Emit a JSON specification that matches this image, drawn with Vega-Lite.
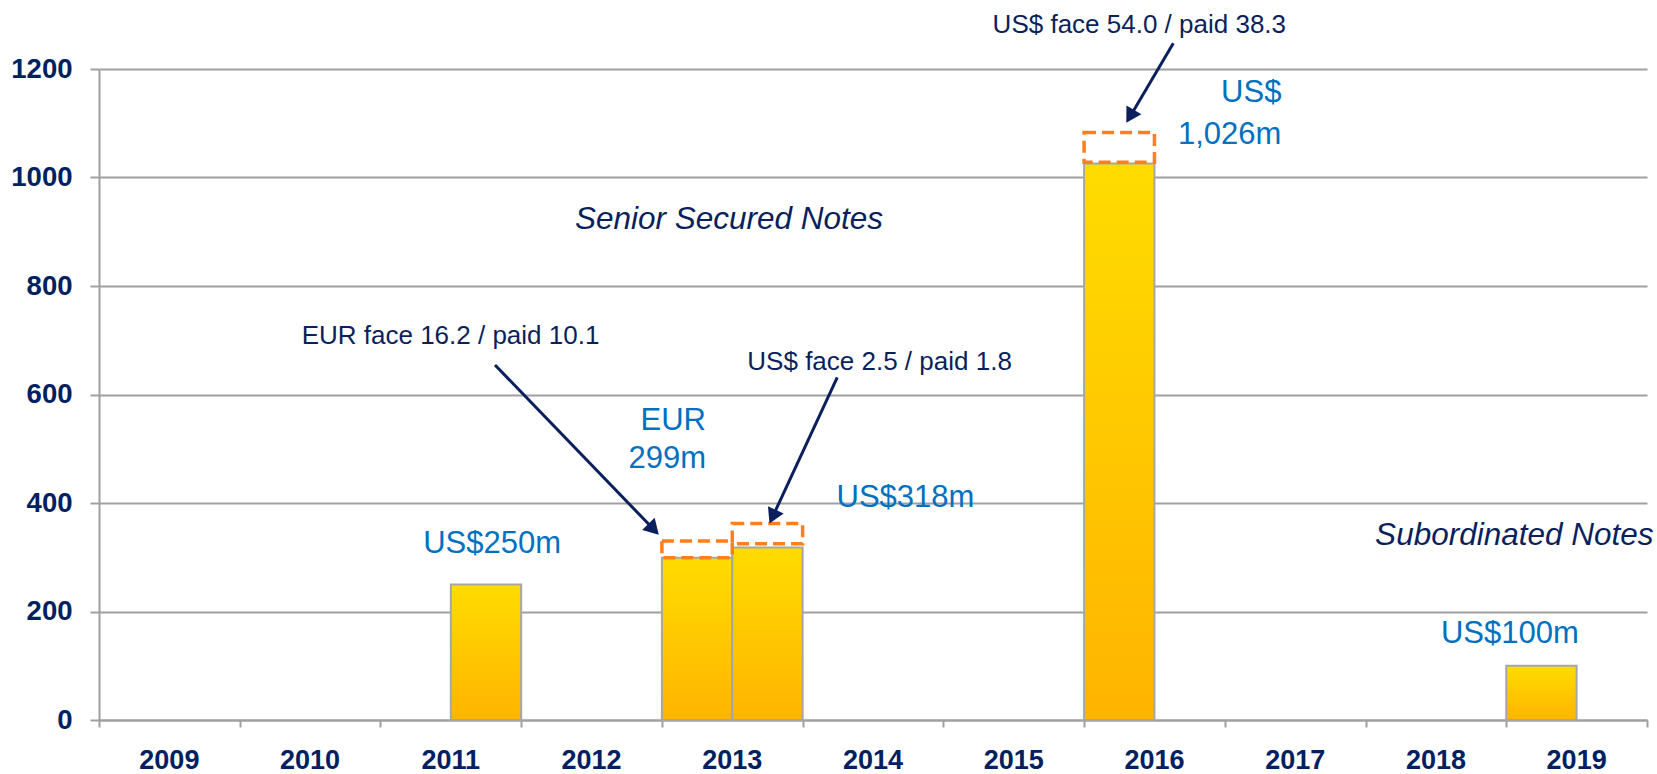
{
  "$schema": "https://vega.github.io/schema/vega-lite/v6.json",
  "width": 1548,
  "height": 651,
  "autosize": {"type": "none"},
  "padding": {"left": 99, "top": 69, "right": 10, "bottom": 54},
  "background": "white",
  "config": {"view": {"stroke": null}},
  "datasets": {
    "bars": [
      {"year": "2011", "series": "B", "value": 250},
      {"year": "2013", "series": "A", "value": 299},
      {"year": "2013", "series": "B", "value": 318},
      {"year": "2016", "series": "A", "value": 1026},
      {"year": "2019", "series": "A", "value": 100}
    ],
    "boxes": [
      {"year": "2013", "series": "A", "lo": 299, "hi": 330},
      {"year": "2013", "series": "B", "lo": 325, "hi": 362},
      {"year": "2016", "series": "A", "lo": 1028, "hi": 1083}
    ],
    "labels": [
      {"kind": "note", "label": "US$ face 54.0 / paid 38.3", "u": 6.35, "v": 1265.8},
      {"kind": "note", "label": "EUR face 16.2 / paid 10.1", "u": 1.44, "v": 692.5},
      {"kind": "note", "label": "US$ face 2.5 / paid 1.8", "u": 4.607, "v": 645.2},
      {"kind": "section", "label": "Senior Secured Notes", "u": 3.382, "v": 904.5},
      {"kind": "section", "label": "Subordinated Notes", "u": 9.068, "v": 322.6},
      {"kind": "amount", "label": "US$250m", "u": 2.304, "v": 307.3},
      {"kind": "amount", "label": "US$318m", "u": 5.241, "v": 393.2},
      {"kind": "amount", "label": "US$100m", "u": 9.536, "v": 141.3},
      {"kind": "amountRight", "label": "EUR", "u": 4.313, "v": 534.6},
      {"kind": "amountRight", "label": "299m", "u": 4.313, "v": 464.0},
      {"kind": "amountRight", "label": "US$", "u": 8.402, "v": 1139.7},
      {"kind": "amountRight", "label": "1,026m", "u": 8.402, "v": 1061.8}
    ],
    "arrows": [
      {"id": "eur", "u": 2.814, "v": 654.4, "u2": 3.941, "v2": 351.6},
      {"id": "usd13", "u": 5.246, "v": 631.7, "u2": 4.787, "v2": 374.7},
      {"id": "usd16", "u": 7.634, "v": 1247.4, "u2": 7.327, "v2": 1112.6}
    ],
    "heads": [
      {"id": "eur", "u": 3.941, "v": 351.6},
      {"id": "usd13", "u": 4.787, "v": 374.7},
      {"id": "usd16", "u": 7.327, "v": 1112.6}
    ]
  },
  "layer": [
    {
      "layer": [
        {
          "data": {"name": "bars"},
          "mark": {
            "type": "bar",
            "stroke": "#a6a6a6",
            "strokeWidth": 2,
            "color": {
              "gradient": "linear",
              "x1": 0, "y1": 0, "x2": 0, "y2": 1,
              "stops": [
                {"offset": 0, "color": "#ffdc00"},
                {"offset": 1, "color": "#ffb400"}
              ]
            }
          },
          "encoding": {
            "x": {
              "field": "year",
              "type": "nominal",
              "scale": {
                "domain": ["2009", "2010", "2011", "2012", "2013", "2014", "2015", "2016", "2017", "2018", "2019"],
                "paddingInner": 0,
                "paddingOuter": 0
              },
              "axis": {
                "title": null,
                "orient": "bottom",
                "ticks": false,
                "tickSize": 0,
                "domain": true,
                "domainColor": "#a0a0a0",
                "domainWidth": 2,
                "grid": false,
                "labelAngle": 0,
                "labelFont": "Liberation Sans",
                "labelFontSize": 27,
                "labelFontWeight": "bold",
                "labelColor": "#002060",
                "labelPadding": 48,
                "labelBaseline": "alphabetic"
              }
            },
            "xOffset": {
              "field": "series",
              "type": "nominal",
              "scale": {"domain": ["A", "B"], "paddingInner": 0, "paddingOuter": 0}
            },
            "y": {
              "field": "value",
              "type": "quantitative",
              "scale": {"domain": [0, 1200], "nice": false},
              "title": null,
              "axis": {
                "title": null,
                "values": [0, 200, 400, 600, 800, 1000, 1200],
                "format": "d",
                "labelFont": "Liberation Sans",
                "labelFontSize": 27.5,
                "labelFontWeight": "bold",
                "labelColor": "#002060",
                "labelPadding": 18,
                "tickSize": 9,
                "tickColor": "#a0a0a0",
                "tickWidth": 2,
                "domainColor": "#a0a0a0",
                "domainWidth": 2,
                "grid": true,
                "gridColor": "#a0a0a0",
                "gridWidth": 2
              }
            }
          }
        },
        {
          "data": {"name": "boxes"},
          "mark": {
            "type": "bar",
            "filled": false,
            "color": "#ff7f1e",
            "strokeWidth": 3.5,
            "strokeDash": [12, 6]
          },
          "encoding": {
            "x": {
              "field": "year",
              "type": "nominal",
              "scale": {
                "domain": ["2009", "2010", "2011", "2012", "2013", "2014", "2015", "2016", "2017", "2018", "2019"],
                "paddingInner": 0,
                "paddingOuter": 0
              },
              "axis": {
                "title": null,
                "orient": "bottom",
                "ticks": false,
                "tickSize": 0,
                "domain": true,
                "domainColor": "#a0a0a0",
                "domainWidth": 2,
                "grid": false,
                "labelAngle": 0,
                "labelFont": "Liberation Sans",
                "labelFontSize": 27,
                "labelFontWeight": "bold",
                "labelColor": "#002060",
                "labelPadding": 48,
                "labelBaseline": "alphabetic"
              }
            },
            "xOffset": {
              "field": "series",
              "type": "nominal",
              "scale": {"domain": ["A", "B"], "paddingInner": 0, "paddingOuter": 0}
            },
            "y": {
              "field": "lo",
              "type": "quantitative",
              "scale": {"domain": [0, 1200], "nice": false},
              "title": null,
              "axis": {
                "title": null,
                "values": [0, 200, 400, 600, 800, 1000, 1200],
                "format": "d",
                "labelFont": "Liberation Sans",
                "labelFontSize": 27.5,
                "labelFontWeight": "bold",
                "labelColor": "#002060",
                "labelPadding": 18,
                "tickSize": 9,
                "tickColor": "#a0a0a0",
                "tickWidth": 2,
                "domainColor": "#a0a0a0",
                "domainWidth": 2,
                "grid": true,
                "gridColor": "#a0a0a0",
                "gridWidth": 2
              }
            },
            "y2": {"field": "hi"}
          }
        }
      ]
    },
    {
      "encoding": {
        "x": {
          "field": "u",
          "type": "quantitative",
          "scale": {"domain": [0, 11], "nice": false, "zero": false},
          "axis": {
            "title": null,
            "orient": "bottom",
            "values": [0, 1, 2, 3, 4, 5, 6, 7, 8, 9, 10, 11],
            "labels": false,
            "domain": false,
            "grid": false,
            "ticks": true,
            "tickSize": 7,
            "tickColor": "#a0a0a0",
            "tickWidth": 2
          }
        },
        "y": {
          "field": "v",
          "type": "quantitative",
          "scale": {"domain": [0, 1200], "nice": false},
          "title": null,
          "axis": {
            "title": null,
            "values": [0, 200, 400, 600, 800, 1000, 1200],
            "format": "d",
            "labelFont": "Liberation Sans",
            "labelFontSize": 27.5,
            "labelFontWeight": "bold",
            "labelColor": "#002060",
            "labelPadding": 18,
            "tickSize": 9,
            "tickColor": "#a0a0a0",
            "tickWidth": 2,
            "domainColor": "#a0a0a0",
            "domainWidth": 2,
            "grid": true,
            "gridColor": "#a0a0a0",
            "gridWidth": 2
          }
        }
      },
      "layer": [
        {
          "data": {"name": "arrows"},
          "mark": {"type": "rule", "color": "#0b1f5c", "strokeWidth": 3},
          "encoding": {"x2": {"field": "u2"}, "y2": {"field": "v2"}}
        },
        {
          "data": {"name": "heads"},
          "transform": [{"filter": "datum.id === 'eur'"}],
          "mark": {"type": "point", "shape": "triangle-up", "filled": true, "opacity": 1, "size": 300, "color": "#0b1f5c", "angle": 136},
          "encoding": {}
        },
        {
          "data": {"name": "heads"},
          "transform": [{"filter": "datum.id === 'usd13'"}],
          "mark": {"type": "point", "shape": "triangle-up", "filled": true, "opacity": 1, "size": 300, "color": "#0b1f5c", "angle": 205},
          "encoding": {}
        },
        {
          "data": {"name": "heads"},
          "transform": [{"filter": "datum.id === 'usd16'"}],
          "mark": {"type": "point", "shape": "triangle-up", "filled": true, "opacity": 1, "size": 300, "color": "#0b1f5c", "angle": 210.6},
          "encoding": {}
        },
        {
          "data": {"name": "labels"},
          "transform": [{"filter": "datum.kind === 'note'"}],
          "mark": {"type": "text", "align": "left", "baseline": "alphabetic", "font": "Liberation Sans", "fontSize": 26, "color": "#0b1f5c"},
          "encoding": {"text": {"field": "label"}}
        },
        {
          "data": {"name": "labels"},
          "transform": [{"filter": "datum.kind === 'section'"}],
          "mark": {"type": "text", "align": "left", "baseline": "alphabetic", "font": "Liberation Sans", "fontSize": 31.5, "fontStyle": "italic", "color": "#0b1f5c"},
          "encoding": {"text": {"field": "label"}}
        },
        {
          "data": {"name": "labels"},
          "transform": [{"filter": "datum.kind === 'amount'"}],
          "mark": {"type": "text", "align": "left", "baseline": "alphabetic", "font": "Liberation Sans", "fontSize": 31, "color": "#0070c0"},
          "encoding": {"text": {"field": "label"}}
        },
        {
          "data": {"name": "labels"},
          "transform": [{"filter": "datum.kind === 'amountRight'"}],
          "mark": {"type": "text", "align": "right", "baseline": "alphabetic", "font": "Liberation Sans", "fontSize": 31, "color": "#0070c0"},
          "encoding": {"text": {"field": "label"}}
        }
      ]
    }
  ],
  "resolve": {"scale": {"x": "independent"}, "axis": {"x": "independent"}}
}
